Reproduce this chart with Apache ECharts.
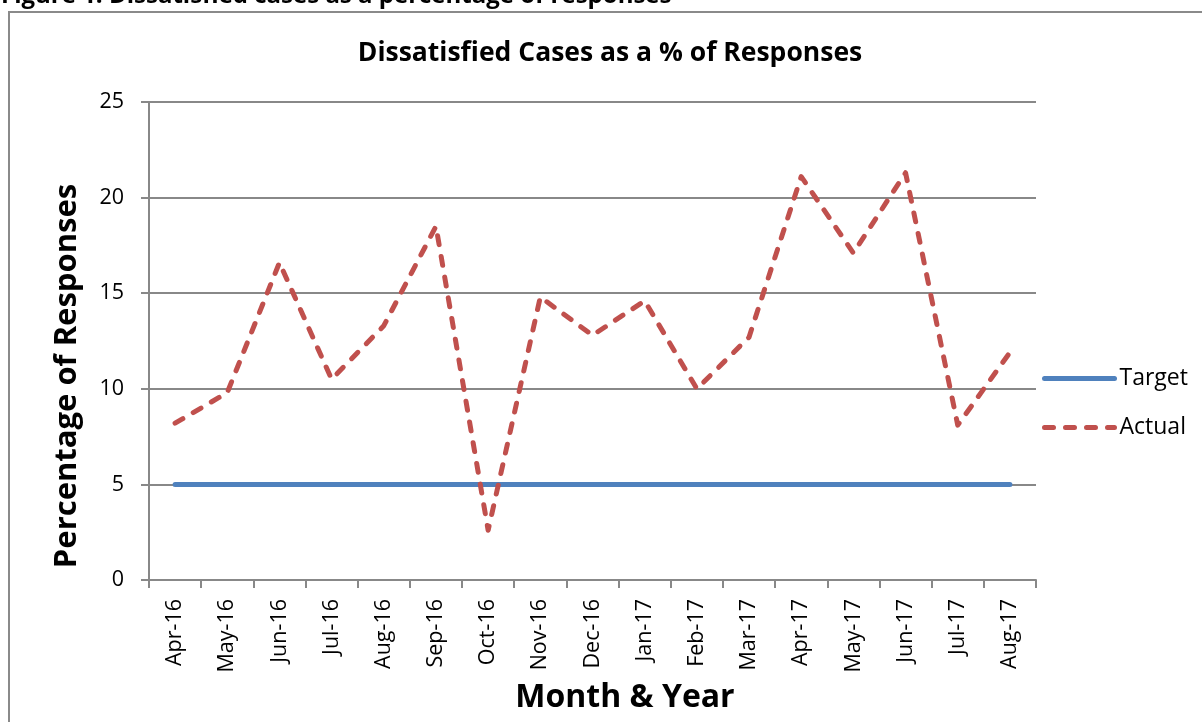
<!DOCTYPE html>
<html>
<head>
<meta charset="utf-8">
<script src="https://cdn.jsdelivr.net/npm/echarts@6/dist/echarts.min.js"></script>
<style>
html,body{margin:0;padding:0;background:#fff;}
#chart{width:1202px;height:722px;}
</style>
</head>
<body>
<div id="chart"></div>
<script>
const categories = ['Apr-16','May-16','Jun-16','Jul-16','Aug-16','Sep-16','Oct-16','Nov-16','Dec-16','Jan-17','Feb-17','Mar-17','Apr-17','May-17','Jun-17','Jul-17','Aug-17'];
const targetValues = [5,5,5,5,5,5,5,5,5,5,5,5,5,5,5,5,5];
const actualValues = [8.2,9.8,16.6,10.5,13.3,18.5,2.6,14.8,12.8,14.6,10.0,12.7,21.1,17.1,21.3,8.1,11.9];
const yTicks = [0,5,10,15,20,25];

const FONT = '"Open Sans", Lato, sans-serif';
const chart = echarts.init(document.getElementById('chart'), null, {renderer:'canvas'});
chart.setOption({
  animation:false,
  backgroundColor:'#fff',
  textStyle:{fontFamily:FONT},
  graphic:[
    {type:'rect', shape:{x:9,y:12,width:1200,height:720}, style:{fill:'none',stroke:'#8a8a8a',lineWidth:2}, silent:true},
    {type:'text', x:1, y:-4, style:{text:'Figure 1: Dissatisfied cases as a percentage of responses', font:'bold 24px '+FONT, fill:'#000', align:'left', verticalAlign:'middle'}},
    {type:'text', x:610, y:53, style:{text:'Dissatisfied Cases as a % of Responses', font:'bold 26.5px '+FONT, fill:'#000', align:'center', verticalAlign:'middle'}},
    {type:'text', x:67, y:376, rotation:Math.PI/2, style:{text:'Percentage of Responses', font:'bold 31px '+FONT, fill:'#000', align:'center', verticalAlign:'middle'}},
    {type:'text', x:625, y:698, style:{text:'Month & Year', font:'bold 32px '+FONT, fill:'#000', align:'center', verticalAlign:'middle'}}
  ],
  legend:{
    orient:'vertical', left:1037, top:362,
    itemWidth:70, itemHeight:14, itemGap:26,
    itemStyle:{opacity:0},
    lineStyle:{width:5},
    textStyle:{fontFamily:FONT, fontSize:23, color:'#000'},
    data:['Target','Actual']
  },
  grid:{left:149, right:166, top:102, bottom:142},
  xAxis:{
    type:'category', data:categories, boundaryGap:true,
    axisLine:{lineStyle:{color:'#888', width:2}},
    axisTick:{show:true, alignWithLabel:false, length:8, lineStyle:{color:'#888', width:2}},
    axisLabel:{rotate:90, fontSize:21.5, color:'#000', margin:19, fontFamily:FONT}
  },
  yAxis:{
    type:'value', min:yTicks[0], max:yTicks[yTicks.length-1], interval:5,
    axisLine:{show:true, lineStyle:{color:'#888', width:2}},
    axisTick:{show:true, length:8, lineStyle:{color:'#888', width:2}},
    axisLabel:{fontSize:21.5, color:'#000', margin:25, fontFamily:FONT},
    splitLine:{show:true, lineStyle:{color:'#888', width:2}}
  },
  series:[
    {name:'Target', type:'line', data:targetValues, symbol:'none', color:'#4F81BD',
     lineStyle:{color:'#4F81BD', width:5, cap:'round'}},
    {name:'Actual', type:'line', data:actualValues, symbol:'none', color:'#C0504D',
     lineStyle:{color:'#C0504D', width:5, type:[9,12], cap:'round', join:'round'}}
  ]
});
</script>
</body>
</html>
